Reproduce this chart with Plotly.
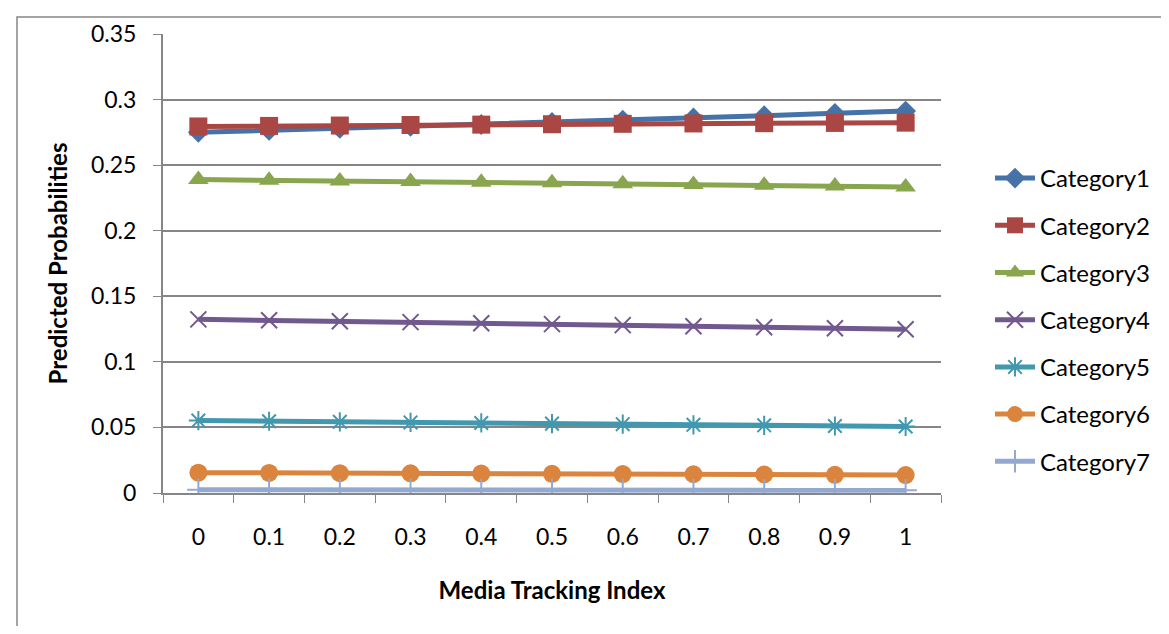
import plotly.graph_objects as go

x_labels = ["0", "0.1", "0.2", "0.3", "0.4", "0.5", "0.6", "0.7", "0.8", "0.9", "1"]

category1 = [0.2750, 0.2765, 0.2780, 0.2795, 0.2810, 0.2826, 0.2843, 0.2860, 0.2877, 0.2895, 0.2912]
category2 = [0.2795, 0.2799, 0.2802, 0.2806, 0.2809, 0.2812, 0.2815, 0.2818, 0.2820, 0.2822, 0.2824]
category3 = [0.2390, 0.2385, 0.2380, 0.2375, 0.2370, 0.2365, 0.2359, 0.2353, 0.2347, 0.2341, 0.2334]
category4 = [0.1324, 0.1317, 0.1310, 0.1303, 0.1295, 0.1288, 0.1280, 0.1272, 0.1264, 0.1256, 0.1248]
category5 = [0.0552, 0.0547, 0.0543, 0.0538, 0.0534, 0.0529, 0.0525, 0.0520, 0.0516, 0.0511, 0.0507]
category6 = [0.0155, 0.0153, 0.0151, 0.0150, 0.0148, 0.0146, 0.0144, 0.0143, 0.0141, 0.0139, 0.0137]
category7 = [0.0025, 0.0025, 0.0024, 0.0024, 0.0023, 0.0023, 0.0023, 0.0022, 0.0022, 0.0021, 0.0021]

series_names = ["Category1", "Category2", "Category3", "Category4", "Category5", "Category6", "Category7"]
series_values = [category1, category2, category3, category4, category5, category6, category7]
colors = ["#4572A7", "#AA4643", "#89A54E", "#71588F", "#4198AF", "#DB843D", "#93A9CF"]
symbols = ["diamond", "square", "triangle-up", "x-thin-open", "asterisk-open", "circle", "cross-thin-open"]
sizes = [16, 18, 18, 16, 16, 18, 16]

FONT = "Lato, Calibri, sans-serif"

fig = go.Figure()
for i, (name, vals) in enumerate(zip(series_names, series_values)):
    open_sym = symbols[i].endswith("-open")
    fig.add_trace(go.Scatter(
        x=x_labels, y=vals, name=name, mode="lines+markers",
        legendgroup=name,
        line=dict(color=colors[i], width=5),
        marker=dict(symbol=symbols[i], size=sizes[i], color=colors[i],
                    line=dict(color=colors[i], width=2 if open_sym else 0)),
    ))

# page has an 8px body margin; work in figure coordinates
OFF = 8
W, H = 1169 - 2 * OFF, 634 - 2 * OFF
L, R, T, B = 163 - OFF, 941 - OFF, 34 - OFF, 493 - OFF
pw, ph = R - L, B - T

def px_x(p):
    return (p - L) / pw

def px_y(p):
    return (B - p) / ph

fig.update_layout(
    width=W, height=H,
    margin=dict(l=L, r=W - R, t=T, b=H - B, autoexpand=False),
    plot_bgcolor="white", paper_bgcolor="white",
    font=dict(family=FONT, size=23, color="black"),
    legend=dict(x=px_x(982), y=px_y(148), xanchor="left", yanchor="top",
                font=dict(size=24), tracegroupgap=13, itemwidth=40,
                bgcolor="rgba(0,0,0,0)"),
    xaxis=dict(
        type="category", range=[-0.5, 10.5],
        showline=True, linecolor="#868686", linewidth=2,
        ticks="outside", tickson="boundaries", ticklen=8, tickcolor="#868686", tickwidth=1,
        ticklabelstandoff=22,
        showgrid=False, zeroline=False,
        tickfont=dict(size=23),
        title=dict(text="<b>Media Tracking Index</b>", font=dict(size=24), standoff=34),
    ),
    yaxis=dict(
        range=[0, 0.35], tickvals=[0, 0.05, 0.1, 0.15, 0.2, 0.25, 0.3, 0.35],
        ticktext=["0", "0.05", "0.1", "0.15", "0.2", "0.25", "0.3", "0.35"],
        showline=True, linecolor="#868686", linewidth=2,
        ticks="outside", ticklen=8, tickcolor="#868686", tickwidth=1,
        ticklabelstandoff=12,
        showgrid=True, gridcolor="#868686", gridwidth=2, zeroline=False,
        tickfont=dict(size=23),
        title=dict(text="<b>Predicted Probabilities</b>", font=dict(size=24), standoff=17),
    ),
    shapes=[dict(type="rect", xref="paper", yref="paper",
                 x0=px_x(OFF + 1), y0=px_y(700), x1=px_x(1300), y1=px_y(OFF + 1),
                 line=dict(color="#868686", width=1.5), layer="below")],
)

fig.write_html("out.html")
